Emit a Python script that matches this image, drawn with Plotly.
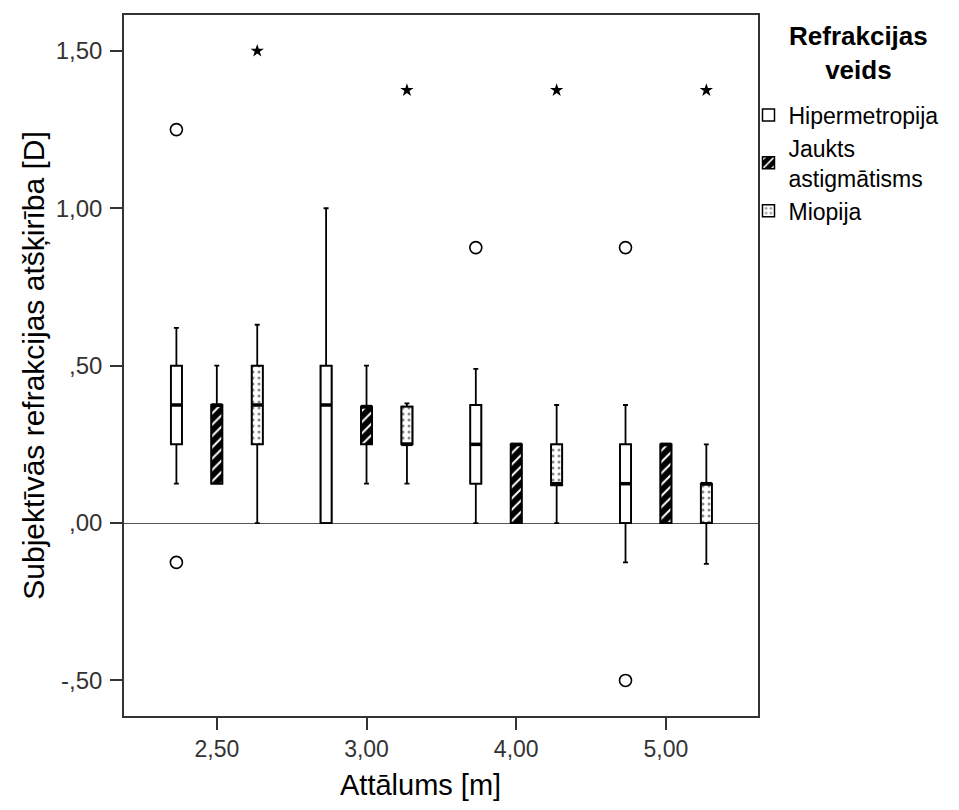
import plotly.graph_objects as go

categories = ["2,50", "3,00", "4,00", "5,00"]
groups = ["Hipermetropija", "Jaukts<br>astigmātisms", "Miopija"]
legend_title = "Refrakcijas<br>veids"

hip_lo = [0.125, 0.0, 0.0, -0.125]
hip_q1 = [0.25, 0.0, 0.125, 0.0]
hip_med = [0.375, 0.375, 0.25, 0.125]
hip_q3 = [0.5, 0.5, 0.375, 0.25]
hip_hi = [0.62, 1.0, 0.49, 0.375]

jau_lo = [0.125, 0.125, 0.0, 0.0]
jau_q1 = [0.125, 0.25, 0.0, 0.0]
jau_med = [0.375, 0.37, 0.25, 0.25]
jau_q3 = [0.375, 0.37, 0.25, 0.25]
jau_hi = [0.5, 0.5, 0.25, 0.25]

mio_lo = [0.0, 0.125, 0.0, -0.13]
mio_q1 = [0.25, 0.25, 0.12, 0.0]
mio_med = [0.375, 0.25, 0.125, 0.125]
mio_q3 = [0.5, 0.37, 0.25, 0.125]
mio_hi = [0.63, 0.38, 0.375, 0.25]

# outliers: (category index, value)
hip_circle_cat = [0, 0, 2, 3, 3]
hip_circle_val = [1.25, -0.125, 0.875, 0.875, -0.5]
mio_star_cat = [0, 1, 2, 3]
mio_star_val = [1.5, 1.375, 1.375, 1.375]

ytick_vals = [-0.5, 0.0, 0.5, 1.0, 1.5]
ytick_text = ["-,50", ",00", ",50", "1,00", "1,50"]

offsets = [-0.27, 0.0, 0.27]
box_w = 0.074

stats = [
    (hip_lo, hip_q1, hip_med, hip_q3, hip_hi),
    (jau_lo, jau_q1, jau_med, jau_q3, jau_hi),
    (mio_lo, mio_q1, mio_med, mio_q3, mio_hi),
]
patterns = [
    dict(shape="", bgcolor="white"),
    dict(shape="/", bgcolor="black", fgcolor="white", size=8, solidity=0.25, fillmode="replace"),
    dict(shape=".", bgcolor="white", fgcolor="#888888", size=6, solidity=0.2, fillmode="replace"),
]

fig = go.Figure()
idx = list(range(len(categories)))

# patterned fills (also legend swatches)
for g, (name, st, pat) in enumerate(zip(groups, stats, patterns)):
    lo, q1, med, q3, hi = st
    xs = [i + offsets[g] for i in idx]
    fig.add_trace(go.Bar(
        x=xs, y=[b - a for a, b in zip(q1, q3)], base=q1, width=box_w,
        name=name, marker=dict(color="white", pattern=pat,
                               line=dict(color="black", width=1.5)),
        hoverinfo="skip", showlegend=True,
    ))

for g, st in enumerate(stats):
    lo, q1, med, q3, hi = st
    xs = [i + offsets[g] for i in idx]
    fig.add_trace(go.Box(
        x=xs, q1=q1, median=med, q3=q3, lowerfence=lo, upperfence=hi,
        width=box_w, fillcolor="rgba(0,0,0,0)", whiskerwidth=0.45,
        line=dict(color="black", width=1.8), boxpoints=False,
        showlegend=False, hoverinfo="skip",
    ))
    # thick median line
    mx, my = [], []
    for x, m in zip(xs, med):
        mx += [x - box_w / 2, x + box_w / 2, None]
        my += [m, m, None]
    fig.add_trace(go.Scatter(x=mx, y=my, mode="lines",
                             line=dict(color="black", width=3.5),
                             showlegend=False, hoverinfo="skip"))

fig.add_trace(go.Scatter(
    x=[c + offsets[0] for c in hip_circle_cat], y=hip_circle_val, mode="markers",
    marker=dict(symbol="circle-open", size=12, color="black", line=dict(width=1.6)),
    showlegend=False, hoverinfo="skip"))
fig.add_trace(go.Scatter(
    x=[c + offsets[2] for c in mio_star_cat], y=mio_star_val, mode="markers",
    marker=dict(symbol="star", size=10, color="black"),
    showlegend=False, hoverinfo="skip"))

font_family = "Liberation Sans, Arial, sans-serif"
annotations = [
    dict(text="Attālums [m]", x=0.467, xref="paper", xanchor="center",
         y=-0.098, yref="paper", yanchor="middle", showarrow=False,
         font=dict(size=29, color="black")),
    dict(text="<b>%s</b>" % legend_title, x=1.158, xref="paper", xanchor="center",
         y=0.9465, yref="paper", yanchor="middle", showarrow=False, align="center",
         font=dict(size=26, color="black")),
]

fig.update_layout(
    width=951, height=802,
    margin=dict(l=116, r=201, t=7, b=94, autoexpand=False),
    plot_bgcolor="white", paper_bgcolor="white",
    barmode="overlay", boxmode="overlay",
    font=dict(family=font_family, color="black"),
    xaxis=dict(
        range=[-0.62, 3.615], tickvals=idx, ticktext=categories,
        showline=True, mirror=True, linecolor="#333333", linewidth=1.5,
        ticks="outside", ticklen=12, tickwidth=1.5, tickcolor="#333333",
        showgrid=False, zeroline=False, automargin=False,
        tickfont=dict(size=23, color="#333333"),
    ),
    yaxis=dict(
        range=[-0.613, 1.614], tickvals=ytick_vals, ticktext=ytick_text,
        showline=True, mirror=True, linecolor="#333333", linewidth=1.5,
        ticks="outside", ticklen=12, tickwidth=1.5, tickcolor="#333333",
        ticklabelstandoff=3,
        showgrid=False, zeroline=True, zerolinecolor="#555555", zerolinewidth=1.2,
        automargin=False,
        tickfont=dict(size=24, color="#333333"),
        title=dict(text="Subjektīvās refrakcijas atšķirība [D]", font=dict(size=30), standoff=2),
    ),
    legend=dict(
        x=0.985, xanchor="left", y=0.888, yanchor="top",
        font=dict(size=23), tracegroupgap=0, itemwidth=30,
        bgcolor="rgba(0,0,0,0)",
    ),
    annotations=annotations,
)

fig.write_html("out.html")
